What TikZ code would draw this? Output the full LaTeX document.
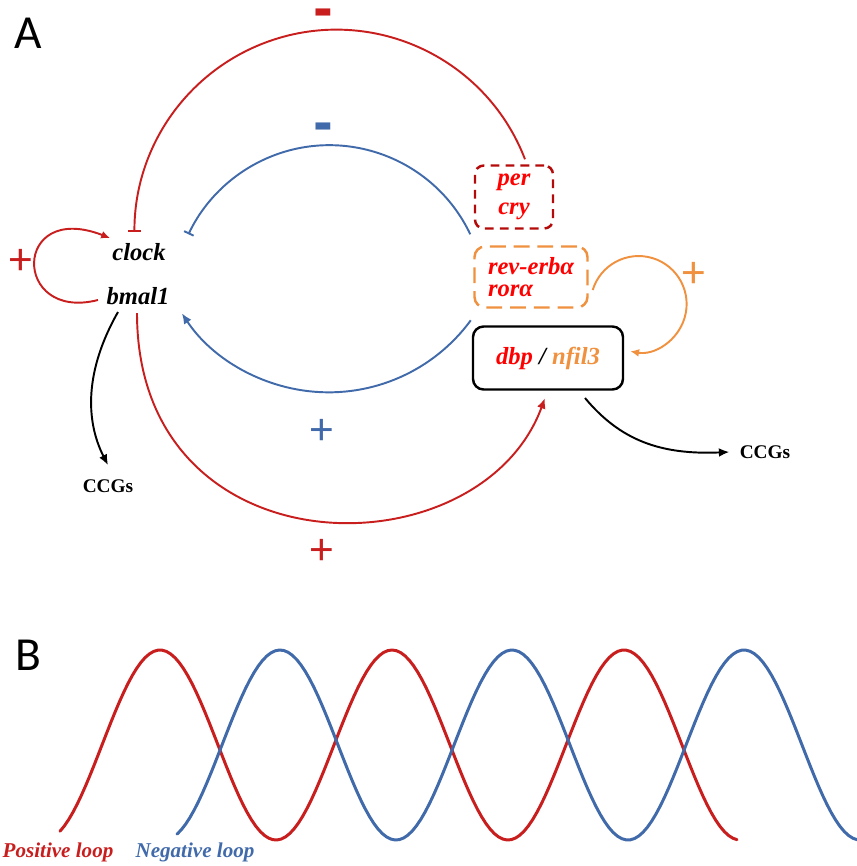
\documentclass[tikz,border=0pt]{standalone}
\usepackage{fontspec}
\setmainfont{Liberation Serif}
\newfontfamily\labelfont{Carlito}
\newfontfamily\signfont{DejaVu Sans}
\usetikzlibrary{arrows.meta}

\definecolor{loopred}{HTML}{C81E1E}
\definecolor{loopblue}{HTML}{416AAA}
\definecolor{looporange}{HTML}{F0913F}
\definecolor{genered}{HTML}{FF0000}
\definecolor{boxred}{HTML}{B40A0A}

\begin{document}
\begin{tikzpicture}[x=0.02cm,y=0.02cm]
  % Styles for genes, boxes and loops
  \tikzset{
    gene_node/.style={font=\fontsize{14}{16}\selectfont\bfseries\itshape,inner sep=0pt},
    ccg_node/.style={font=\fontsize{11}{13}\selectfont\bfseries,inner sep=0pt},
    sign_node/.style={font=\labelfont\fontsize{26}{28}\selectfont,inner sep=0pt},
    minus_node/.style={font=\signfont\fontsize{11}{13}\selectfont,inner sep=0pt},
    panel_node/.style={font=\labelfont\fontsize{27}{29}\selectfont,inner sep=0pt},
    per_box/.style={draw=boxred,line width=1.4pt,dash pattern=on 5pt off 3.5pt,rounded corners=5pt,
      minimum width=1.56cm,minimum height=1.26cm,text=genered,align=center},
    rev_box/.style={draw=looporange,line width=1.4pt,dash pattern=on 9pt off 4.5pt,rounded corners=6pt,
      minimum width=2.26cm,minimum height=1.22cm,text=genered,align=left},
    dbp_box/.style={draw=black,line width=1.4pt,rounded corners=6pt,minimum width=3cm,minimum height=1.26cm},
    red_arc/.style={loopred,line width=1.1pt},
    blue_arc/.style={loopblue,line width=1.1pt},
    red_wave/.style={loopred,line width=1.7pt,line cap=round},
    blue_wave/.style={loopblue,line width=1.7pt,line cap=round}
  }
  \useasboundingbox (0,0) rectangle (857,-866);

  % Panel A: genes and boxes
  \node[panel_node] (labA) at (28,-33) {A};
  \node[gene_node] (clock) at (139,-252) {clock};
  \node[gene_node] (bmal1) at (138,-296) {bmal1};
  \node[gene_node,per_box,font=\fontsize{14}{16.5}\selectfont\bfseries\itshape] (per) at (514,-197) {per\\cry};
  \node[gene_node,rev_box,font=\fontsize{14}{12.5}\selectfont\bfseries\itshape] (rev) at (531,-277) {rev-erbα\\rorα};
  \node[gene_node,dbp_box] (dbp) at (548,-358) {\textcolor{genered}{dbp} / \textcolor{looporange}{nfil3}};
  \node[ccg_node] (ccgL) at (108,-486) {CCGs};
  \node[ccg_node] (ccgR) at (765,-452) {CCGs};

  % signs
  \node[minus_node,text=loopred] (mRed) at (323,-13) {▬};
  \node[minus_node,text=loopblue] (mBlue) at (323,-127) {▬};
  \node[sign_node,text=loopred] (pSelf) at (21,-262) {+};
  \node[sign_node,text=loopblue] (pBlue) at (322,-432) {+};
  \node[sign_node,text=loopred] (pRed) at (322,-552) {+};
  \node[sign_node,text=looporange] (pOrange) at (694,-275) {+};

  % Negative loops
  \draw[red_arc,-{Bar[width=7pt]}] ([shift={(11,5)}]per.north) arc[start angle=21,end angle=180,radius=202];
  \draw[blue_arc,-{Bar[width=6pt]}] ([shift={(-3,11)}]rev.north west) arc[start angle=25.4,end angle=154.6,radius=156];

  % Positive loops
  \draw[blue_arc,-{Latex[length=6pt,width=5pt]}] ([shift={(-1,5)}]dbp.north west) arc[start angle=-36.2,end angle=-146.6,radius=176];
  \draw[red_arc,-{Latex[length=6pt,width=5pt]}] ([shift={(-1,-17)}]bmal1.center) .. controls (137,-575) and (480,-575) .. ([shift={(-3,-40)}]dbp.center);
  \draw[red_arc,-{Latex[length=5pt,width=4.5pt]}] ([shift={(-40,-4)}]bmal1.center) .. controls (12,-322) and (12,-200) .. ([shift={(-29,14)}]clock.center);
  \draw[looporange,line width=1.1pt,-{Latex[length=5pt,width=4.5pt]}] ([shift={(4,-13)}]rev.east) arc[start angle=163,end angle=-100,radius=48];

  % Clock controlled genes
  \draw[line width=1.1pt,-{Latex[length=6pt,width=5pt]}] ([shift={(-20,-16)}]bmal1.center) .. controls (85,-370) and (85,-420) .. ([yshift=0.28cm]ccgL.north);
  \draw[line width=1.1pt,-{Latex[length=6pt,width=5pt]}] ([shift={(37,-40)}]dbp.center) .. controls (620,-440) and (660,-455) .. ([xshift=-0.2cm]ccgR.west);

  % Panel B: oscillations
  \node[panel_node] (labB) at (28,-655) {B};
  \draw[red_wave] plot[domain=60:737,samples=160] (\x,{-745+95*cos(1.5517*(\x-160))});
  \draw[blue_wave] plot[domain=177:857,samples=160] (\x,{-745+95*cos(1.5517*(\x-280))});
  \node[font=\fontsize{12}{14}\selectfont\bfseries\itshape,text=loopred,inner sep=0pt] (posLoop) at (58,-852) {Positive loop};
  \node[font=\fontsize{12}{14}\selectfont\bfseries\itshape,text=loopblue,inner sep=0pt] (negLoop) at (195,-852) {Negative loop};
\end{tikzpicture}
\end{document}
